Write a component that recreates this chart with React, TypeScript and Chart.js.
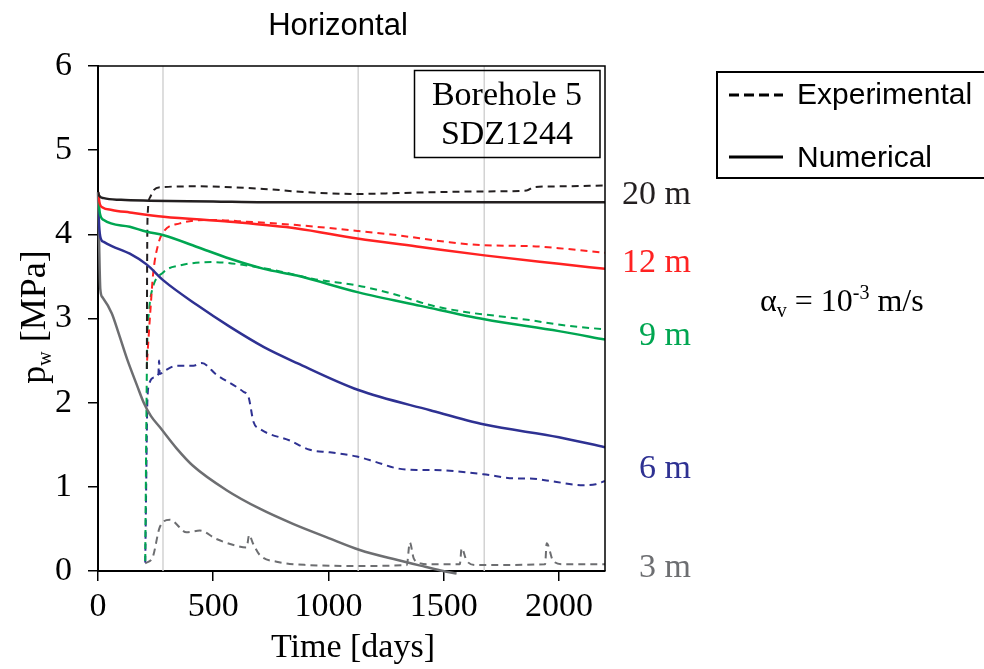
import React, { useEffect, useRef } from "react";
import { Chart, registerables } from "chart.js";

Chart.register(...registerables);

// ---- tick values ----
const xTicks = [0, 500, 1000, 1500, 2000];
const yTicks = [0, 1, 2, 3, 4, 5, 6];
const gridDays = [282, 1129, 1676];

// ---- numerical (solid) ----
const num20Days = [0, 5, 25, 100, 225, 500, 720, 1000, 1500, 2200];
const num20 = [4.5, 4.46, 4.43, 4.41, 4.4, 4.39, 4.38, 4.38, 4.38, 4.38];

const num12Days = [0, 8, 20, 60, 138, 285, 573, 863, 1125, 1400, 1677, 2000, 2200];
const num12 = [4.5, 4.36, 4.32, 4.29, 4.26, 4.21, 4.15, 4.07, 3.95, 3.85, 3.75, 3.65, 3.59];

const num9Days = [0, 8, 25, 138, 212, 285, 430, 573, 720, 863, 1130, 1400, 1677, 2000, 2200];
const num9 = [4.5, 4.25, 4.17, 4.09, 4.03, 3.99, 3.85, 3.71, 3.59, 3.51, 3.31, 3.15, 2.99, 2.85, 2.75];

const num6Days = [0, 5, 12, 25, 60, 138, 212, 285, 430, 573, 720, 864, 1130, 1441, 1677, 2000, 2200];
const num6 = [4.5, 4.1, 3.95, 3.91, 3.86, 3.77, 3.64, 3.45, 3.16, 2.9, 2.66, 2.47, 2.15, 1.91, 1.74, 1.59, 1.47];

const num3Days = [0, 4, 10, 20, 60, 90, 126, 170, 200, 230, 268, 340, 412, 558, 702, 846, 993, 1136, 1300, 1420, 1497, 1556];
const num3 = [4.5, 4.0, 3.35, 3.25, 3.06, 2.82, 2.52, 2.2, 1.99, 1.84, 1.71, 1.46, 1.25, 0.96, 0.74, 0.56, 0.4, 0.25, 0.13, 0.05, 0.0, -0.03];

// ---- experimental (dashed) ----
const exp20Days = [212, 213, 215, 226, 240, 269, 429, 718, 906, 1130, 1300, 1441, 1674, 1860, 1890, 2000, 2200];
const exp20 = [2.4, 3.5, 4.2, 4.44, 4.52, 4.56, 4.57, 4.54, 4.5, 4.48, 4.49, 4.5, 4.51, 4.52, 4.56, 4.57, 4.58];

const exp12Days = [213, 225, 240, 262, 284, 355, 501, 646, 863, 1130, 1297, 1514, 1674, 1875, 2021, 2200];
const exp12 = [2.5, 3.0, 3.55, 3.89, 4.03, 4.13, 4.17, 4.15, 4.11, 4.04, 3.99, 3.91, 3.87, 3.86, 3.83, 3.78];

const exp9Days = [205, 209, 213, 222, 234, 284, 355, 501, 646, 790, 935, 1130, 1297, 1441, 1587, 1731, 1875, 2021, 2200];
const exp9 = [0.12, 1.5, 2.6, 3.1, 3.33, 3.55, 3.63, 3.67, 3.63, 3.56, 3.47, 3.39, 3.28, 3.16, 3.08, 3.03, 2.98, 2.92, 2.87];

const exp6Days = [205, 210, 214, 222, 245, 262, 265, 268, 290, 342, 414, 450, 515, 631, 653, 675, 702, 832, 919, 1006, 1123, 1200, 1297, 1383, 1441, 1527, 1671, 1816, 1875, 1961, 2105, 2160, 2200];
const exp6 = [0.1, 1.2, 2.0, 2.22, 2.3, 2.34, 2.5, 2.34, 2.38, 2.44, 2.44, 2.47, 2.33, 2.13, 2.07, 1.77, 1.69, 1.55, 1.44, 1.41, 1.36, 1.3, 1.22, 1.2, 1.2, 1.19, 1.15, 1.1, 1.1, 1.07, 1.02, 1.03, 1.07];

const exp3Days = [205, 238, 268, 312, 384, 442, 514, 601, 645, 656, 672, 702, 775, 919, 1136, 1340, 1353, 1370, 1400, 1430, 1570, 1578, 1600, 1643, 1940, 1947, 1975, 2018, 2200];
const exp3 = [0.09, 0.17, 0.52, 0.61, 0.46, 0.48, 0.38, 0.3, 0.28, 0.43, 0.33, 0.19, 0.11, 0.07, 0.06, 0.07, 0.34, 0.15, 0.09, 0.08, 0.08, 0.27, 0.12, 0.07, 0.08, 0.33, 0.12, 0.08, 0.08];

const depthLabels = ["20 m", "12 m", "9 m", "6 m", "3 m"];
const colors = ["#231f20", "#ff2222", "#00a651", "#2e3192", "#6d6e71"];

const serif = '"Liberation Serif", "Times New Roman", serif';
const sans = '"Liberation Sans", Arial, sans-serif';

const pts = (xs: number[], ys: number[]) => xs.map((x, i) => ({ x, y: ys[i] }));

export default function App() {
  const ref = useRef<HTMLCanvasElement | null>(null);

  useEffect(() => {
    if (!ref.current) return;

    const numSeries = [
      [num20Days, num20],
      [num12Days, num12],
      [num9Days, num9],
      [num6Days, num6],
      [num3Days, num3],
    ];
    const expSeries = [
      [exp20Days, exp20],
      [exp12Days, exp12],
      [exp9Days, exp9],
      [exp6Days, exp6],
      [exp3Days, exp3],
    ];

    const datasets: any[] = [];
    numSeries.forEach(([xs, ys], i) => {
      datasets.push({
        label: "Numerical " + depthLabels[i],
        data: pts(xs as number[], ys as number[]),
        borderColor: colors[i],
        borderWidth: 2.5,
        pointRadius: 0,
        cubicInterpolationMode: "monotone",
        clip: i === 4 ? 4 : undefined,
      });
    });
    expSeries.forEach(([xs, ys], i) => {
      datasets.push({
        label: "Experimental " + depthLabels[i],
        data: pts(xs as number[], ys as number[]),
        borderColor: colors[i],
        borderWidth: 2,
        borderDash: [7, 5],
        pointRadius: 0,
        cubicInterpolationMode: "monotone",
      });
    });
    gridDays.forEach((d) => {
      datasets.push({
        label: "grid",
        data: [
          { x: d, y: 0 },
          { x: d, y: 6 },
        ],
        borderColor: "#d3d3d3",
        borderWidth: 1.5,
        pointRadius: 0,
      });
    });

    const overlay = {
      id: "overlay",
      afterDraw(chart: any) {
        const ctx = chart.ctx as CanvasRenderingContext2D;
        const { left, top, right, bottom } = chart.chartArea;
        ctx.save();
        // frame top/right
        ctx.strokeStyle = "#000";
        ctx.lineWidth = 1.5;
        ctx.beginPath();
        ctx.moveTo(left, top);
        ctx.lineTo(right, top);
        ctx.lineTo(right, bottom);
        ctx.stroke();

        // title
        ctx.fillStyle = "#000";
        ctx.textBaseline = "alphabetic";
        ctx.textAlign = "center";
        ctx.font = `31px ${sans}`;
        ctx.fillText("Horizontal", 338, 35);

        // x title
        ctx.font = `34px ${serif}`;
        ctx.fillText("Time [days]", 353, 657);

        // y title (rotated)
        ctx.save();
        ctx.translate(45, 317);
        ctx.rotate(-Math.PI / 2);
        ctx.textAlign = "left";
        ctx.font = `36px ${serif}`;
        const wp = ctx.measureText("p").width;
        const wm = ctx.measureText(" [MPa]").width;
        ctx.font = `20px ${serif}`;
        const ww = ctx.measureText("w").width;
        let sx = -(wp + ww + wm) / 2;
        ctx.font = `36px ${serif}`;
        ctx.fillText("p", sx, 0);
        ctx.font = `20px ${serif}`;
        ctx.fillText("w", sx + wp, 6);
        ctx.font = `36px ${serif}`;
        ctx.fillText(" [MPa]", sx + wp + ww, 0);
        ctx.restore();

        // annotation box
        ctx.lineWidth = 1.5;
        ctx.strokeRect(414.5, 70.5, 185.5, 87);
        ctx.font = `34px ${serif}`;
        ctx.textAlign = "center";
        ctx.fillText("Borehole 5", 507, 105);
        ctx.fillText("SDZ1244", 507, 144);

        // legend box
        ctx.lineWidth = 2;
        ctx.strokeRect(717, 72, 300, 106);
        ctx.lineWidth = 3;
        ctx.setLineDash([10, 5]);
        ctx.beginPath();
        ctx.moveTo(729, 95);
        ctx.lineTo(783, 95);
        ctx.stroke();
        ctx.setLineDash([]);
        ctx.beginPath();
        ctx.moveTo(729, 157);
        ctx.lineTo(783, 157);
        ctx.stroke();
        ctx.font = `30px ${sans}`;
        ctx.textAlign = "left";
        ctx.fillText("Experimental", 797, 104);
        ctx.fillText("Numerical", 797, 167);

        // depth labels
        const labelY = [204, 272, 345, 478, 577];
        ctx.font = `34px ${serif}`;
        ctx.textAlign = "right";
        depthLabels.forEach((t, i) => {
          ctx.fillStyle = colors[i];
          ctx.fillText(t, 691, labelY[i]);
        });

        // alpha text
        ctx.fillStyle = "#000";
        ctx.textAlign = "left";
        let ax = 760;
        const ay = 311;
        const part = (t: string, size: number, dy: number) => {
          ctx.font = `${size}px ${serif}`;
          ctx.fillText(t, ax, ay + dy);
          ax += ctx.measureText(t).width;
        };
        part("α", 32, 0);
        part("v", 20, 6);
        part(" = 10", 32, 0);
        part("-3", 20, -12);
        part(" m/s", 32, 0);

        ctx.restore();
      },
    };

    const chart = new Chart(ref.current, {
      type: "line",
      data: { datasets },
      options: {
        animation: false,
        responsive: false,
        devicePixelRatio: 1,
        layout: { padding: { top: 66, right: 379, left: 0, bottom: 0 } },
        plugins: { legend: { display: false }, tooltip: { enabled: false } },
        scales: {
          x: {
            type: "linear",
            min: 0,
            max: 2200,
            afterFit: (s: any) => {
              s.height = 98;
            },
            afterBuildTicks: (s: any) => {
              s.ticks = xTicks.map((v) => ({ value: v }));
            },
            border: { display: true, color: "#000", width: 2 },
            grid: { drawOnChartArea: false, drawTicks: true, tickLength: 10, color: "#000", lineWidth: 1.5 },
            ticks: {
              color: "#000",
              font: { family: serif, size: 34 },
              padding: 6,
              maxRotation: 0,
              callback: (v: any) => String(v),
            },
          },
          y: {
            type: "linear",
            min: 0,
            max: 6,
            afterFit: (s: any) => {
              s.width = 98;
            },
            afterBuildTicks: (s: any) => {
              s.ticks = yTicks.map((v) => ({ value: v }));
            },
            border: { display: true, color: "#000", width: 2 },
            grid: { drawOnChartArea: false, drawTicks: true, tickLength: 10, color: "#000", lineWidth: 1.5 },
            ticks: { color: "#000", font: { family: serif, size: 34 }, padding: 16, callback: (v: any) => String(v) },
          },
        },
      },
      plugins: [overlay],
    });
    return () => chart.destroy();
  }, []);

  return (
    <div style={{ position: "absolute", left: 0, top: 0, width: 984, height: 669, background: "#fff" }}>
      <canvas ref={ref} width={984} height={669} />
    </div>
  );
}
